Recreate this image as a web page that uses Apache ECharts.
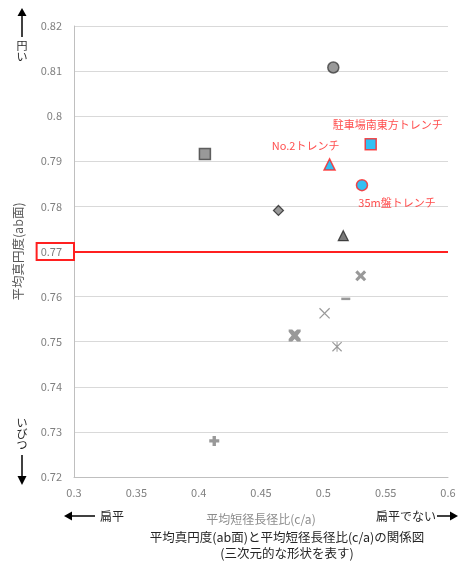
<!DOCTYPE html>
<html>
<head>
<meta charset="utf-8">
<script src="https://cdn.jsdelivr.net/npm/echarts@6/dist/echarts.min.js"></script>
<style>
  html, body { margin: 0; padding: 0; background: #fff; }
  #chart { width: 459px; height: 564px; }
</style>
</head>
<body>
<div id="chart"></div>
<script>
// 各トレンチの測定値 (c/a, ab面真円度)
const pointNames = ['A', 'B', 'C', 'D', 'E', '駐車場南東方トレンチ', 'No.2トレンチ', '35m盤トレンチ',
  'F', 'G', 'H', 'I', 'J', 'K'];
const caValues = [0.508, 0.405, 0.464, 0.516, 0.538, 0.538, 0.505, 0.531,
  0.530, 0.518, 0.501, 0.477, 0.511, 0.4125];
const roundValues = [0.8108, 0.7916, 0.7791, 0.7735, 0.7938, 0.7938, 0.7893, 0.7847,
  0.7646, 0.7595, 0.7563, 0.7514, 0.7489, 0.7280];
const xTicks = { min: 0.3, max: 0.6, step: 0.05 };
const yTicks = { min: 0.72, max: 0.82, step: 0.01 };
const thresholdValue = 0.77;

const FONT = '"Noto Sans CJK JP", "Noto Sans", sans-serif';
const GRAY = '#7f7f7f';
const DARK = '#404040';
const BLUE = '#00b0f0';
const RED = '#ff2020';

const thickX = 'path://M2,0 L5,3 L8,0 L10,2 L7,5 L10,8 L8,10 L5,7 L2,10 L0,8 L3,5 L0,2 Z';
const fatX = 'path://M0,0 L3,0 L5,2 L7,0 L10,0 L10,2 L7.5,5 L10,8 L10,10 L7,10 L5,8 L3,10 L0,10 L0,8 L2.5,5 L0,2 Z';
const thinX = 'path://M0,0.8 L0.8,0 L10,9.2 L9.2,10 Z M9.2,0 L10,0.8 L0.8,10 L0,9.2 Z';
const starX = 'path://M0,0.8 L0.8,0 L10,9.2 L9.2,10 Z M9.2,0 L10,0.8 L0.8,10 L0,9.2 Z M4.5,0 L5.5,0 L5.5,10 L4.5,10 Z';
const plusS = 'path://M3.3,0 H6.7 V3.3 H10 V6.7 H6.7 V10 H3.3 V6.7 H0 V3.3 H3.3 Z';

// マーカーの見た目 (系列ごと)
const styles = [
  { symbol: 'circle', size: 11, color: GRAY, border: DARK, bw: 1.5 },
  { symbol: 'rect', size: 11, color: GRAY, border: DARK, bw: 1.5 },
  { symbol: 'diamond', size: 10, color: GRAY, border: '#262626', bw: 1.2 },
  { symbol: 'triangle', size: 10, color: '#595959', border: '#262626', bw: 1.2 },
  null,
  { symbol: 'rect', size: 11, color: BLUE, border: RED, bw: 1.5,
    label: { position: 'top', offset: [17, -3] } },
  { symbol: 'triangle', size: 11, color: BLUE, border: RED, bw: 1.5,
    label: { position: 'top', offset: [-24, -2] } },
  { symbol: 'circle', size: 11, color: BLUE, border: RED, bw: 1.5,
    label: { position: 'bottom', offset: [35, 1] } },
  { symbol: thickX, size: 11, color: GRAY },
  { symbol: 'rect', size: [9, 2.5], color: GRAY },
  { symbol: thinX, size: 11, color: GRAY },
  { symbol: fatX, size: 12, color: GRAY },
  { symbol: starX, size: 10, color: GRAY },
  { symbol: plusS, size: 10, color: GRAY }
];

const series = [];
pointNames.forEach((name, i) => {
  const st = styles[i];
  if (!st) return;
  const s = {
    name: name,
    type: 'scatter',
    symbol: st.symbol,
    symbolSize: st.size,
    data: [[caValues[i], roundValues[i]]],
    itemStyle: {
      color: st.color,
      borderColor: st.border || st.color,
      borderWidth: st.bw || 0
    },
    z: 5
  };
  if (st.label) {
    s.label = {
      show: true,
      formatter: name,
      position: st.label.position,
      offset: st.label.offset,
      color: RED,
      fontSize: 11,
      fontFamily: FONT
    };
  }
  series.push(s);
});

// 0.77 の基準線
series.push({
  name: 'threshold',
  type: 'line',
  data: [],
  markLine: {
    silent: true,
    symbol: 'none',
    label: { show: false },
    lineStyle: { color: RED, width: 2, type: 'solid' },
    data: [{ yAxis: thresholdValue }]
  },
  z: 3
});

const vText = (txt, x, y) => ({
  type: 'text', x: x, y: y,
  style: { text: txt.split('').join('\n'), fill: '#262626', font: '11px ' + FONT,
    lineHeight: 11, align: 'center', verticalAlign: 'middle' }
});

const chart = echarts.init(document.getElementById('chart'));
const option = {
  animation: false,
  backgroundColor: '#fff',
  textStyle: { fontFamily: FONT },
  grid: { left: 74, right: 11, top: 26, bottom: 87 },
  xAxis: {
    type: 'value',
    min: xTicks.min, max: xTicks.max, interval: xTicks.step,
    name: '平均短径長径比(c/a)',
    nameLocation: 'middle',
    nameGap: 36,
    nameTextStyle: { color: '#8c8c8c', fontSize: 12, fontFamily: FONT },
    axisLine: { show: true, lineStyle: { color: '#bfbfbf' } },
    axisTick: { show: false },
    splitLine: { show: false },
    axisLabel: { color: '#7f7f7f', fontSize: 11, margin: 10,
      formatter: v => String(+v.toFixed(2)) }
  },
  yAxis: {
    type: 'value',
    min: yTicks.min, max: yTicks.max, interval: yTicks.step,
    name: '平均真円度(ab面)',
    nameLocation: 'middle',
    nameGap: 48,
    nameRotate: 90,
    nameTextStyle: { color: '#595959', fontSize: 12.5, fontFamily: FONT },
    axisLine: { show: true, lineStyle: { color: '#bfbfbf' } },
    axisTick: { show: false },
    splitLine: { show: true, lineStyle: { color: '#d9d9d9' } },
    axisLabel: {
      margin: 0,
      formatter: v => {
        const t = String(+v.toFixed(2));
        return Math.abs(v - thresholdValue) < 1e-6 ? '{r|' + t + '}' : '{n|' + t + '}';
      },
      rich: {
        n: { color: '#7f7f7f', fontSize: 11, padding: [3, 12, 3, 4] },
        r: { color: '#7f7f7f', fontSize: 11, padding: [3, 12, 3, 4],
          borderColor: RED, borderWidth: 2 }
      }
    }
  },
  graphic: [
    // 上: ↑ 円い
    { type: 'line', shape: { x1: 22, y1: 14, x2: 22, y2: 37 }, style: { stroke: '#000', lineWidth: 1.5 } },
    { type: 'polygon', shape: { points: [[17.5, 16], [26.5, 16], [22, 8]] }, style: { fill: '#000' } },
    vText('円い', 22, 51),
    // 下: いびつ ↓
    vText('いびつ', 22, 434),
    { type: 'line', shape: { x1: 22, y1: 455, x2: 22, y2: 478 }, style: { stroke: '#000', lineWidth: 1.5 } },
    { type: 'polygon', shape: { points: [[17.5, 476], [26.5, 476], [22, 485]] }, style: { fill: '#000' } },
    // 左: ← 扁平
    { type: 'line', shape: { x1: 70, y1: 516, x2: 95, y2: 516 }, style: { stroke: '#000', lineWidth: 1.5 } },
    { type: 'polygon', shape: { points: [[72, 511.5], [72, 520.5], [64, 516]] }, style: { fill: '#000' } },
    { type: 'text', x: 100, y: 516,
      style: { text: '扁平', fill: '#262626', font: '12px ' + FONT, verticalAlign: 'middle' } },
    // 右: 扁平でない →
    { type: 'text', x: 436, y: 516,
      style: { text: '扁平でない', fill: '#262626', font: '12px ' + FONT, align: 'right', verticalAlign: 'middle' } },
    { type: 'line', shape: { x1: 437, y1: 516, x2: 452, y2: 516 }, style: { stroke: '#000', lineWidth: 1.5 } },
    { type: 'polygon', shape: { points: [[450, 511.5], [450, 520.5], [458, 516]] }, style: { fill: '#000' } },
    // 図題
    { type: 'text', x: 287, y: 537,
      style: { text: '平均真円度(ab面)と平均短径長径比(c/a)の関係図', fill: '#262626', font: '12.5px ' + FONT,
        align: 'center', verticalAlign: 'middle' } },
    { type: 'text', x: 287, y: 553,
      style: { text: '(三次元的な形状を表す)', fill: '#262626', font: '12.5px ' + FONT,
        align: 'center', verticalAlign: 'middle' } }
  ],
  series: series
};
chart.setOption(option);
window.addEventListener('resize', () => {
  chart.resize();
});
</script>
</body>
</html>
